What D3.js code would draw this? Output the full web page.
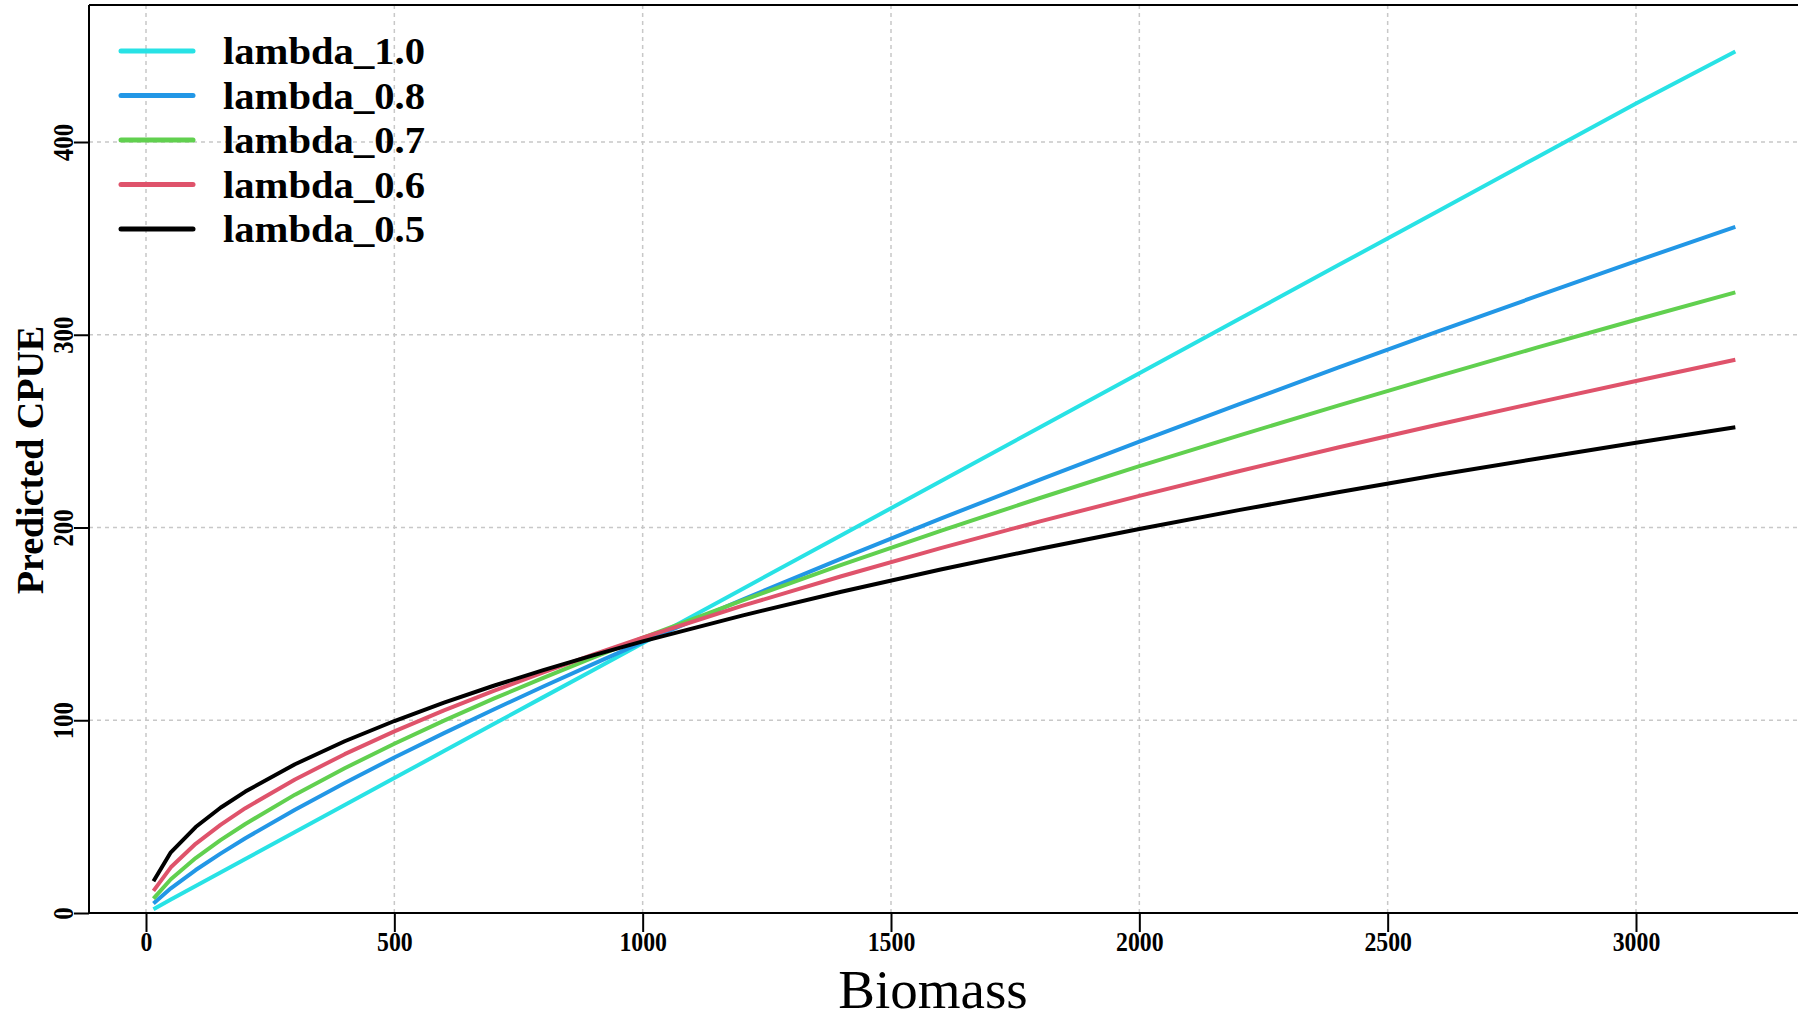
<!DOCTYPE html>
<html>
<head>
<meta charset="utf-8">
<script src="https://cdn.jsdelivr.net/npm/d3@7"></script>
<style>
  body { margin: 0; background: #fff; }
  svg { display: block; }
</style>
</head>
<body>
<svg id="chart"></svg>
<script>
// biomass values where the curves were read
const biomass = [15, 50, 100, 150, 200, 300, 400, 500, 600, 700, 800, 900, 1000,
  1200, 1400, 1600, 1800, 2000, 2200, 2400, 2600, 2800, 3000, 3200];

// predicted CPUE
const lambda10 = [2, 7, 14, 21, 28, 42, 56, 70, 84, 98, 112, 126, 140,
  168, 196, 224, 252, 280, 308, 336, 364, 392, 420, 447];
const lambda08 = [4.9, 12.8, 22.3, 30.8, 38.8, 53.6, 67.5, 80.7, 93.3, 105.6, 117.5, 129.1, 140.5,
  162.5, 183.9, 204.6, 224.8, 244.5, 263.9, 282.9, 301.6, 320, 338.2, 356];
const lambda07 = [7.5, 17.5, 28.5, 37.8, 46.2, 61.4, 75.1, 87.8, 99.8, 111.2, 122, 132.5, 142.7,
  162.1, 180.6, 198.3, 215.3, 231.8, 247.7, 263.2, 278.4, 293.3, 307.8, 322];
const lambda06 = [11.5, 23.7, 35.9, 45.7, 54.4, 69.3, 82.4, 94.2, 105.1, 115.2, 124.9, 134, 142.8,
  159.3, 174.7, 189.3, 203.2, 216.4, 229.2, 241.5, 253.3, 264.8, 276, 287];
const lambda05 = [16.5, 31.5, 44.6, 54.6, 63, 77.2, 89.1, 99.6, 109.1, 117.9, 126, 133.7, 140.9,
  154.3, 166.7, 178.2, 189, 199.2, 209, 218.3, 227.2, 235.7, 244, 252];

const seriesNames = ["lambda_1.0", "lambda_0.8", "lambda_0.7", "lambda_0.6", "lambda_0.5"];
const seriesValues = [lambda10, lambda08, lambda07, lambda06, lambda05];
const seriesColors = ["#28E2E5", "#2297E6", "#61D04F", "#DF536B", "#000000"];

const xTicks = [0, 500, 1000, 1500, 2000, 2500, 3000];
const yTicks = [0, 100, 200, 300, 400];

let svgWidth = 1798, svgHeight = 1020;
let plotLeft = 89, plotTop = 5, plotBottom = 913, plotRight = 1798;

let svg = d3.select('#chart')
    .attr("width", svgWidth)
    .attr("height", svgHeight);

let x = d3.scaleLinear().domain([0, 3000]).range([146, 1636]);
let y = d3.scaleLinear().domain([0, 400]).range([913, 142]);

// grid
let grid = svg.append("g")
    .attr("stroke", "#c8c8c8")
    .attr("stroke-width", 1.5)
    .attr("stroke-dasharray", "4,4");

grid.selectAll(".vg")
    .data(xTicks)
    .enter().append("line")
    .attr("x1", d => x(d)).attr("x2", d => x(d))
    .attr("y1", plotTop).attr("y2", plotBottom);

grid.selectAll(".hg")
    .data(yTicks.slice(1))
    .enter().append("line")
    .attr("x1", plotLeft).attr("x2", plotRight)
    .attr("y1", d => y(d)).attr("y2", d => y(d));

// series lines
let line = d3.line()
    .x(function (d, i) { return x(biomass[i]); })
    .y(function (d) { return y(d); });

seriesValues.forEach(function (vals, i) {
    svg.append("path")
        .datum(vals)
        .attr("fill", "none")
        .attr("stroke", seriesColors[i])
        .attr("stroke-width", 4)
        .attr("stroke-linejoin", "round")
        .attr("d", line);
});

// axes
let xAxis = svg.append("g")
    .attr("transform", "translate(0," + plotBottom + ")")
    .call(d3.axisBottom(x).tickValues(xTicks).tickSize(19).tickPadding(0).tickFormat(d3.format("d")));
xAxis.select(".domain").remove();
xAxis.selectAll(".tick line").attr("stroke", "#000").attr("stroke-width", 2);
xAxis.selectAll(".tick text")
    .attr("y", 38)
    .attr("dy", 0)
    .attr("transform", "scale(0.85,1)")
    .attr("fill", "#000")
    .style("font-family", "'Liberation Serif', 'Times New Roman', serif")
    .style("font-weight", "bold")
    .style("font-size", "28px");

let yAxis = svg.append("g")
    .attr("transform", "translate(" + plotLeft + ",0)")
    .call(d3.axisLeft(y).tickValues(yTicks).tickSize(15).tickPadding(0).tickFormat(d3.format("d")));
yAxis.select(".domain").remove();
yAxis.selectAll(".tick line").attr("stroke", "#000").attr("stroke-width", 2);
yAxis.selectAll(".tick text")
    .attr("x", null)
    .attr("dy", null)
    .attr("text-anchor", "middle")
    .attr("transform", "translate(-16,0) rotate(-90) scale(0.85,1)")
    .attr("y", 0)
    .attr("fill", "#000")
    .style("font-family", "'Liberation Serif', 'Times New Roman', serif")
    .style("font-weight", "bold")
    .style("font-size", "29px");

// frame: left, bottom, top
svg.append("line")
    .attr("x1", plotLeft).attr("x2", plotLeft)
    .attr("y1", plotTop).attr("y2", plotBottom)
    .attr("stroke", "#000").attr("stroke-width", 2);
svg.append("line")
    .attr("x1", plotLeft).attr("x2", plotRight)
    .attr("y1", plotBottom).attr("y2", plotBottom)
    .attr("stroke", "#000").attr("stroke-width", 2);
svg.append("line")
    .attr("x1", plotLeft).attr("x2", plotRight)
    .attr("y1", plotTop).attr("y2", plotTop)
    .attr("stroke", "#000").attr("stroke-width", 2);

// axis titles
svg.append("text")
    .attr("x", 933)
    .attr("y", 1008)
    .attr("text-anchor", "middle")
    .style("font-family", "'Liberation Serif', 'Times New Roman', serif")
    .style("font-size", "55px")
    .text("Biomass");

svg.append("text")
    .attr("transform", "translate(43,460) rotate(-90)")
    .attr("text-anchor", "middle")
    .style("font-family", "'Liberation Serif', 'Times New Roman', serif")
    .style("font-weight", "bold")
    .style("font-size", "38px")
    .text("Predicted CPUE");

// legend
let legend = svg.append("g");
let rowY = d3.scaleLinear().domain([0, 4]).range([51, 229]);

let rows = legend.selectAll(".row")
    .data(seriesNames)
    .enter().append("g")
    .attr("transform", (d, i) => "translate(0," + rowY(i) + ")");

rows.append("line")
    .attr("x1", 121).attr("x2", 193)
    .attr("y1", 0).attr("y2", 0)
    .attr("stroke", (d, i) => seriesColors[i])
    .attr("stroke-width", 5)
    .attr("stroke-linecap", "round");

rows.append("text")
    .attr("x", 223)
    .attr("y", 13)
    .attr("textLength", 202)
    .attr("lengthAdjust", "spacingAndGlyphs")
    .style("font-family", "'Liberation Serif', 'Times New Roman', serif")
    .style("font-weight", "bold")
    .style("font-size", "37px")
    .text(d => d);
</script>
</body>
</html>
